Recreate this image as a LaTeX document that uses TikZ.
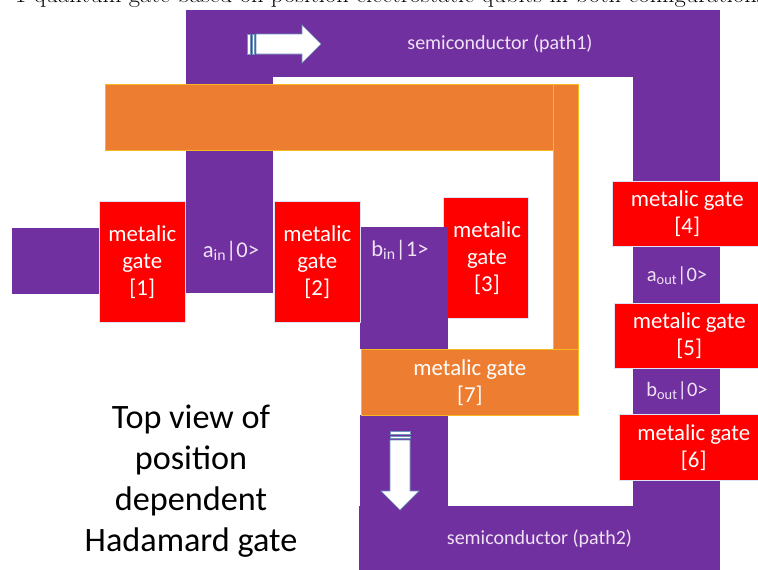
\documentclass[tikz,border=0pt]{standalone}
\usepackage{fontspec}
\setmainfont{Carlito}
\newfontfamily\capfont{Latin Modern Roman}
\definecolor{semi}{HTML}{7030A0}
\definecolor{gatered}{HTML}{FF0000}
\definecolor{gateor}{HTML}{ED7D31}
\definecolor{orline}{HTML}{F5B820}
\definecolor{edgeb}{HTML}{DDE2F6}
\definecolor{arrowline}{HTML}{6F93BC}
\definecolor{txt}{HTML}{F0E2F4}
\tikzset{
  semibox/.style={fill=semi,draw=none},
  redgate/.style={fill=gatered,draw=edgeb,line width=0.5pt},
  orgate/.style={fill=gateor,draw=orline,line width=0.7pt},
  gatelabel/.style={text=white,align=center,font=\fontsize{22.8}{27}\selectfont},
  semilabel/.style={text=txt,font=\fontsize{20}{24}\selectfont},
  qlabel/.style={text=txt,font=\fontsize{22.5}{26}\selectfont},
  qlabelsmall/.style={text=txt,font=\fontsize{20.5}{24}\selectfont},
  caption/.style={text=black,align=center,font=\fontsize{34.2}{41.2}\selectfont},
  arrowshape/.style={fill=white,draw=arrowline,line width=0.7pt,line join=miter},
}
\begin{document}
\begin{tikzpicture}[x=1pt,y=-1pt]
\useasboundingbox (0,0) rectangle (758,570);
\clip (0,0) rectangle (758,570);
% clipped text line above the figure
\node[anchor=base west,inner sep=0pt,font=\capfont\fontsize{24.5}{28}\selectfont] (topline) at (15,2.5)
  {1 quantum gate based on position electrostatic qubits in both configurations};
% semiconductor
\fill[semibox] (12,228) rectangle (100,294);
\fill[semibox] (186,10) rectangle (273,293);
\fill[semibox] (186,10) rectangle (720,77);
\fill[semibox] (633,10) rectangle (720,570);
\fill[semibox] (360,415) rectangle (448,570);
\fill[semibox] (359,506) rectangle (720,570);
% gate 3 sits beneath b_in
\node[redgate,minimum width=85pt,minimum height=121pt,inner sep=0pt,anchor=north west] (g3) at (443,197) {};
\fill[semibox] (360,227) rectangle (448,349);
% orange gate
\path[orgate] (105,84) rectangle (553,150);
\path[orgate] (553,84) rectangle (578,350);
% red gates
\node[redgate,gatelabel,minimum width=86pt,minimum height=121pt,inner sep=0pt,anchor=north west] (g1) at (99,201) {\raisebox{-1pt}{metalic}\\\raisebox{-1pt}{gate}\\\raisebox{-1pt}{[1]}};
\node[redgate,gatelabel,minimum width=86pt,minimum height=121pt,inner sep=0pt,anchor=north west] (g2) at (274,201) {\raisebox{-1pt}{metalic}\\\raisebox{-1pt}{gate}\\\raisebox{-1pt}{[2]}};
\node[gatelabel] (g3t) at (487,258.5) {metalic\\gate\\{}[3]};
\node[redgate,gatelabel,minimum width=150pt,minimum height=65pt,inner sep=0pt,anchor=north west] (g4) at (612,181) {metalic gate\\{}[4]};
\node[redgate,gatelabel,minimum width=150pt,minimum height=65pt,inner sep=0pt,anchor=north west] (g5) at (614,302.5) {metalic gate\\{}[5]};
\node[redgate,gatelabel,minimum width=149pt,minimum height=66pt,inner sep=0pt,anchor=north west] (g6) at (619,414) {\raisebox{-1pt}{metalic gate}\\\raisebox{-1pt}{[6]}};
\node[orgate,gatelabel,minimum width=217pt,minimum height=66pt,inner sep=0pt,anchor=north west] (g7) at (361,349) {\raisebox{-1pt}{metalic gate}\\\raisebox{-1pt}{[7]}};
% labels
\node[semilabel] (p1) at (500,43.5) {semiconductor (path1)};
\node[semilabel] (p2) at (539.5,538.5) {semiconductor (path2)};
\node[qlabel] (ain) at (231,251) {a\textsubscript{in}|0>};
\node[qlabel] (bin) at (400,250) {b\textsubscript{in}|1>};
\node[qlabelsmall] (aout) at (677,275.5) {a\textsubscript{out}|0>};
\node[qlabelsmall] (bout) at (677,391) {b\textsubscript{out}|0>};
\node[caption] (cap) at (191,481) {Top view of\\position\\dependent\\Hadamard gate};
% flow arrows
\path[arrowshape] (256,34) -- (302,34) -- (302,25) -- (321,44) -- (302,63) -- (302,54) -- (256,54) -- cycle;
\path[arrowshape,line width=0.5pt] (247,34) rectangle (250,54);
\path[arrowshape,line width=0.5pt] (252,34) rectangle (254.5,54);
\path[arrowshape] (390,440) -- (390,491) -- (381,491) -- (400,510) -- (419,491) -- (410,491) -- (410,440) -- cycle;
\path[arrowshape,line width=0.5pt] (390,431) rectangle (410,434);
\path[arrowshape,line width=0.5pt] (390,436) rectangle (410,438.5);
\end{tikzpicture}
\end{document}
